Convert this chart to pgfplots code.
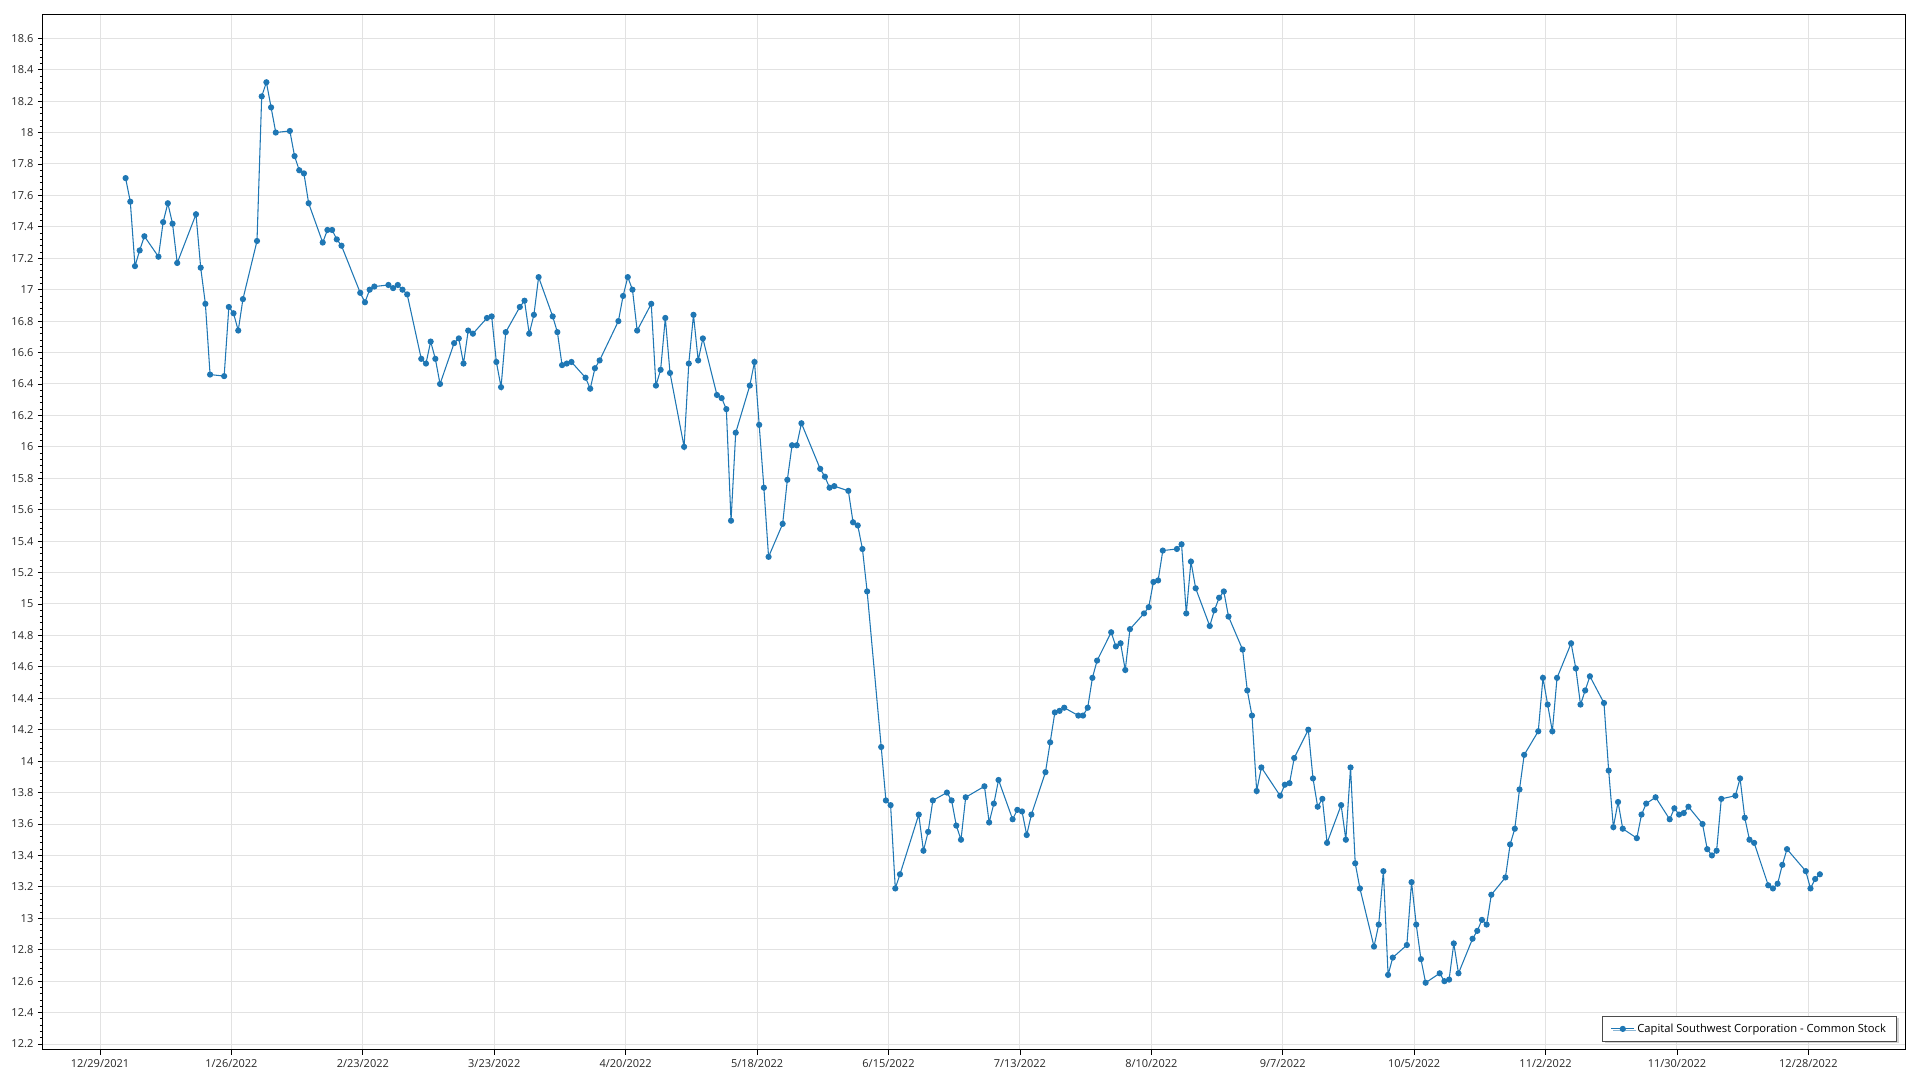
\documentclass[border=0pt]{standalone}
\usepackage{fontspec}
\setmainfont{Open Sans}
\usepackage{pgfplots}
\usepackage{pgfplotstable}
\pgfplotsset{compat=1.18}
\usetikzlibrary{shadows}
\definecolor{series}{HTML}{1F77B4}
\definecolor{gridc}{HTML}{E2E2E2}
\pgfplotstableread{
d v
5 17.71
6 17.56
7 17.15
8 17.25
9 17.34
12 17.21
13 17.43
14 17.55
15 17.42
16 17.17
20 17.48
21 17.14
22 16.91
23 16.46
26 16.45
27 16.89
28 16.85
29 16.74
30 16.94
33 17.31
34 18.23
35 18.32
36 18.16
37 18.00
40 18.01
41 17.85
42 17.76
43 17.74
44 17.55
47 17.30
48 17.38
49 17.38
50 17.32
51 17.28
55 16.98
56 16.92
57 17.00
58 17.02
61 17.03
62 17.01
63 17.03
64 17.00
65 16.97
68 16.56
69 16.53
70 16.67
71 16.56
72 16.40
75 16.66
76 16.69
77 16.53
78 16.74
79 16.72
82 16.82
83 16.83
84 16.54
85 16.38
86 16.73
89 16.89
90 16.93
91 16.72
92 16.84
93 17.08
96 16.83
97 16.73
98 16.52
99 16.53
100 16.54
103 16.44
104 16.37
105 16.50
106 16.55
110 16.80
111 16.96
112 17.08
113 17.00
114 16.74
117 16.91
118 16.39
119 16.49
120 16.82
121 16.47
124 16.00
125 16.53
126 16.84
127 16.55
128 16.69
131 16.33
132 16.31
133 16.24
134 15.53
135 16.09
138 16.39
139 16.54
140 16.14
141 15.74
142 15.30
145 15.51
146 15.79
147 16.01
148 16.01
149 16.15
153 15.86
154 15.81
155 15.74
156 15.75
159 15.72
160 15.52
161 15.50
162 15.35
163 15.08
166 14.09
167 13.75
168 13.72
169 13.19
170 13.28
174 13.66
175 13.43
176 13.55
177 13.75
180 13.80
181 13.75
182 13.59
183 13.50
184 13.77
188 13.84
189 13.61
190 13.73
191 13.88
194 13.63
195 13.69
196 13.68
197 13.53
198 13.66
201 13.93
202 14.12
203 14.31
204 14.32
205 14.34
208 14.29
209 14.29
210 14.34
211 14.53
212 14.64
215 14.82
216 14.73
217 14.75
218 14.58
219 14.84
222 14.94
223 14.98
224 15.14
225 15.15
226 15.34
229 15.35
230 15.38
231 14.94
232 15.27
233 15.10
236 14.86
237 14.96
238 15.04
239 15.08
240 14.92
243 14.71
244 14.45
245 14.29
246 13.81
247 13.96
251 13.78
252 13.85
253 13.86
254 14.02
257 14.20
258 13.89
259 13.71
260 13.76
261 13.48
264 13.72
265 13.50
266 13.96
267 13.35
268 13.19
271 12.82
272 12.96
273 13.30
274 12.64
275 12.75
278 12.83
279 13.23
280 12.96
281 12.74
282 12.59
285 12.65
286 12.60
287 12.61
288 12.84
289 12.65
292 12.87
293 12.92
294 12.99
295 12.96
296 13.15
299 13.26
300 13.47
301 13.57
302 13.82
303 14.04
306 14.19
307 14.53
308 14.36
309 14.19
310 14.53
313 14.75
314 14.59
315 14.36
316 14.45
317 14.54
320 14.37
321 13.94
322 13.58
323 13.74
324 13.57
327 13.51
328 13.66
329 13.73
331 13.77
334 13.63
335 13.70
336 13.66
337 13.67
338 13.71
341 13.60
342 13.44
343 13.40
344 13.43
345 13.76
348 13.78
349 13.89
350 13.64
351 13.50
352 13.48
355 13.21
356 13.19
357 13.22
358 13.34
359 13.44
363 13.30
364 13.19
365 13.25
366 13.28
}\stock
\begin{document}
\begin{tikzpicture}
\useasboundingbox (-32.25pt,-22.5pt) rectangle (1407.75pt,787.5pt);
\begin{axis}[
  at={(0,0)}, anchor=south west,
  scale only axis, width=1396.5pt, height=776.25pt,
  xmin=-12.15, xmax=384.6, ymin=12.162, ymax=18.748,
  axis line style={black, line width=0.75pt},
  xtick={0,28,56,84,112,140,168,196,224,252,280,308,336,364},
  xticklabels={12/29/2021,1/26/2022,2/23/2022,3/23/2022,4/20/2022,5/18/2022,6/15/2022,7/13/2022,8/10/2022,9/7/2022,10/5/2022,11/2/2022,11/30/2022,12/28/2022},
  ytick={12.2,12.4,12.6,12.8,13,13.2,13.4,13.6,13.8,14,14.2,14.4,14.6,14.8,15,15.2,15.4,15.6,15.8,16,16.2,16.4,16.6,16.8,17,17.2,17.4,17.6,17.8,18,18.2,18.4,18.6},
  minor y tick num=4,
  tick align=outside,
  xtick pos=bottom, ytick pos=left,
  major tick length=3.75pt, minor tick length=2.25pt,
  every tick/.style={black, line width=0.6pt},
  xmajorgrids, ymajorgrids,
  major grid style={gridc, line width=0.75pt},
  tick label style={font=\fontsize{8.25}{10}\selectfont, color=black!85},
  /pgf/number format/assume math mode=true,
  legend style={at={(1,0)}, anchor=south east, xshift=-6pt, yshift=6pt,
    draw=black!70, fill=white, line width=0.75pt,
    font=\fontsize{8.4}{10}\selectfont,
    drop shadow={shadow xshift=1.5pt, shadow yshift=-1.5pt, fill=black!35},
    inner xsep=6pt, inner ysep=3.5pt},
  legend cell align=left,
]
\addplot[series, line width=0.8pt, mark=*, mark size=1.9pt, mark options={fill=series, draw=series}] table[x expr=\thisrow{d}+0.45, y=v] {\stock};
\addlegendentry{Capital Southwest Corporation - Common Stock}
\end{axis}
\end{tikzpicture}
\end{document}
